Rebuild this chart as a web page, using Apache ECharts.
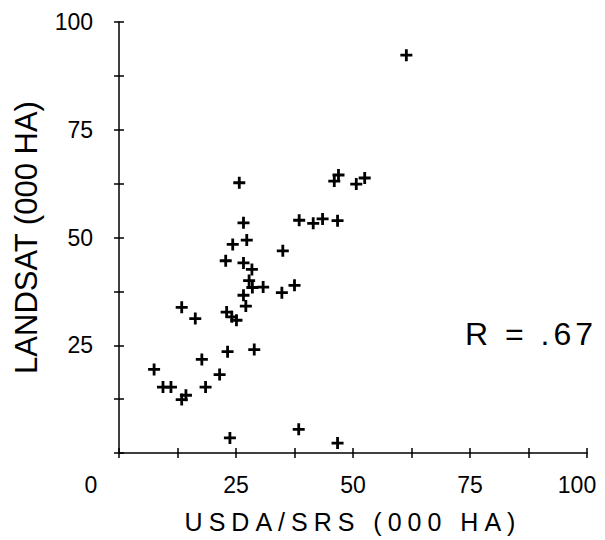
<!DOCTYPE html>
<html>
<head>
<meta charset="utf-8">
<script src="https://cdn.jsdelivr.net/npm/echarts@6/dist/echarts.min.js"></script>
<style>
  html, body { margin: 0; padding: 0; background: #fff; }
  #chart { width: 605px; height: 540px; }
  #chart text[style*="25px"] { letter-spacing: 6px; }
  #chart text[style*="32px"] { letter-spacing: 4px; }
</style>
</head>
<body>
<div id="chart"></div>
<script>
// USDA/SRS (000 HA) values
const usdaSrs = [61.4, 46.9, 46.0, 52.5, 50.7, 38.5, 41.5, 43.5, 46.7, 35.0,
                 37.5, 34.8, 25.7, 26.6, 24.3, 27.3, 22.8, 26.6, 28.4, 27.8,
                 28.5, 30.8, 26.6, 27.1, 13.4, 16.3, 23.0, 24.1, 25.1, 28.9,
                 23.2, 17.7, 7.5, 21.5, 9.4, 11.1, 18.5, 14.3, 13.4, 23.7,
                 38.4, 46.7];
// LANDSAT (000 HA) values
const landsat = [92.3, 64.5, 63.1, 63.8, 62.4, 54.0, 53.3, 54.3, 53.9, 46.9,
                 38.9, 37.2, 62.7, 53.4, 48.4, 49.4, 44.6, 44.1, 42.6, 40.0,
                 38.4, 38.5, 36.6, 34.1, 33.8, 31.2, 32.7, 31.6, 30.8, 24.0,
                 23.5, 21.7, 19.4, 18.2, 15.3, 15.3, 15.3, 13.4, 12.4, 3.5,
                 5.5, 2.3];
const labeledTicks = [0, 25, 50, 75, 100];
const xTitle = 'USDA/SRS (000 HA)';
const yTitle = 'LANDSAT (000 HA)';
const rText = 'R = .67';

const points = usdaSrs.map((v, i) => [v, landsat[i]]);
const FONT = 'Liberation Sans';
const INK = '#000';
const plusPath = 'path://M4.6,0H7.4V4.6H12V7.4H7.4V12H4.6V7.4H0V4.6H4.6Z';

const chart = echarts.init(document.getElementById('chart'), null, { renderer: 'svg' });

const baseAxis = {
  type: 'value', min: 0, max: 100, interval: 12.5,
  splitLine: { show: false }
};
const tickLabelStyle = { fontFamily: FONT, fontSize: 23, color: INK };
const tickLine = { color: INK, width: 1.5 };

chart.setOption({
  animation: false,
  backgroundColor: '#fff',
  grid: { left: 119, right: 18, top: 22, bottom: 87 },
  xAxis: [
    Object.assign({}, baseAxis, {
      position: 'bottom',
      name: xTitle, nameLocation: 'middle', nameGap: 56,
      nameTextStyle: { fontFamily: FONT, fontSize: 25, color: INK },
      axisLine: { show: true, lineStyle: { color: INK, width: 1.5 } },
      axisTick: { show: false },
      axisLabel: Object.assign({}, tickLabelStyle, {
        margin: 20,
        showMinLabel: true, showMaxLabel: true,
        formatter: v => {
          if (labeledTicks.indexOf(v) < 0) return '';
          if (v === 0) return '{z|0}';
          if (v === 100) return '{h|100}';
          return String(v);
        },
        rich: {
          z: Object.assign({}, tickLabelStyle, { padding: [0, 56, 0, 0] }),
          h: Object.assign({}, tickLabelStyle, { padding: [0, 20, 0, 0] })
        }
      })
    }),
    Object.assign({}, baseAxis, {
      position: 'bottom',
      offset: -5,
      axisLine: { show: false },
      axisTick: { show: true, length: 10, lineStyle: tickLine },
      axisLabel: { show: false }
    })
  ],
  yAxis: [
    Object.assign({}, baseAxis, {
      position: 'left',
      name: yTitle, nameLocation: 'middle', nameGap: 77, nameRotate: 90,
      nameTextStyle: { fontFamily: FONT, fontSize: 31, color: INK },
      axisLine: { show: true, lineStyle: { color: INK, width: 1.5 } },
      axisTick: { show: false },
      axisLabel: Object.assign({}, tickLabelStyle, {
        margin: 26,
        showMinLabel: true, showMaxLabel: true,
        formatter: v => (labeledTicks.indexOf(v) >= 0 && v !== 0) ? String(v) : ''
      })
    }),
    Object.assign({}, baseAxis, {
      position: 'left',
      offset: -5,
      axisLine: { show: false },
      axisTick: { show: true, length: 10, lineStyle: tickLine },
      axisLabel: { show: false }
    })
  ],
  graphic: [{
    type: 'text',
    x: 531, y: 334,
    style: {
      text: rText, fontFamily: FONT, fontSize: 32, fill: INK,
      align: 'center', verticalAlign: 'middle'
    }
  }],
  series: [{
    type: 'scatter',
    xAxisIndex: 0, yAxisIndex: 0,
    data: points,
    symbol: plusPath,
    symbolSize: 12,
    itemStyle: { color: '#000', opacity: 1 },
    emphasis: { disabled: true }
  }]
});
</script>
</body>
</html>
